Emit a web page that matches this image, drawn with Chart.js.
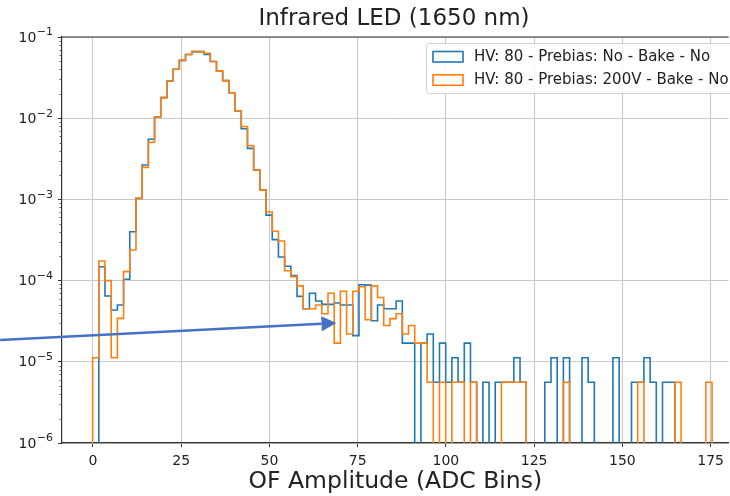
<!DOCTYPE html>
<html>
<head>
<meta charset="utf-8">
<script src="https://cdn.jsdelivr.net/npm/chart.js@4/dist/chart.umd.min.js"></script>
<style>
html,body{margin:0;padding:0;background:#fff;overflow:hidden}
#wrap{width:730px;height:496px;position:relative}
canvas{display:block}
</style>
</head>
<body>
<div id="wrap"><canvas id="c" width="730" height="496"></canvas></div>
<script>
// ---------------- data ----------------
const chartTitle = 'Infrared LED (1650 nm)';
const xAxisLabel = 'OF Amplitude (ADC Bins)';
const seriesLabels = ['HV: 80 - Prebias: No - Bake - No', 'HV: 80 - Prebias: 200V - Bake - No'];
const seriesColors = ['#1f77b4', '#ff7f0e'];

// histogram binning (100 bins)
const binStart = -0.1;
const binWidth = 1.755;

// normalised densities per bin
const blueDensity = [
  0, 1.48e-4, 6.45e-5, 4.35e-5, 5.0e-5, 1.04e-4, 4.0e-4, 1.03e-3, 2.65e-3, 5.5e-3,
  1.03e-2, 1.79e-2, 2.87e-2, 4.0e-2, 5.15e-2, 6.1e-2, 6.6e-2, 6.6e-2, 6.1e-2, 5.0e-2,
  3.8e-2, 2.9e-2, 2.06e-2, 1.23e-2, 7.4e-3, 4.25e-3, 2.3e-3, 1.31e-3, 6.4e-4, 3.2e-4,
  1.95e-4, 1.5e-4, 1.15e-4, 6.4e-5, 4.5e-5, 7.0e-5, 5.6e-5, 5.1e-5, 5.1e-5, 5.3e-5,
  5.0e-5, 5.0e-5, 2.1e-5, 8.9e-5, 8.8e-5, 3.2e-5, 5.0e-5, 4.5e-5, 4.5e-5, 5.6e-5,
  1.7e-5, 1.7e-5, 0, 1.7e-5, 2.2e-5, 5.6e-6, 1.7e-5, 5.6e-6, 1.12e-5, 5.6e-6,
  1.7e-5, 5.6e-6, 0, 5.6e-6, 0, 5.6e-6, 5.6e-6, 5.6e-6, 1.12e-5, 5.6e-6,
  0, 0, 0, 5.6e-6, 1.12e-5, 0, 1.12e-5, 0, 0, 1.12e-5,
  5.6e-6, 0, 0, 0, 1.12e-5, 0, 0, 5.6e-6, 5.6e-6, 1.12e-5,
  5.6e-6, 0, 5.6e-6, 5.6e-6, 0, 0, 0, 0, 0, 0
];
const orangeDensity = [
  1.12e-5, 1.74e-4, 1.0e-4, 1.12e-5, 3.43e-5, 1.29e-4, 2.38e-4, 1.03e-3, 2.48e-3, 5.05e-3,
  1.03e-2, 1.79e-2, 2.87e-2, 4.0e-2, 5.15e-2, 6.1e-2, 6.6e-2, 6.6e-2, 6.3e-2, 5.0e-2,
  3.8e-2, 2.9e-2, 2.06e-2, 1.23e-2, 7.9e-3, 4.6e-3, 2.3e-3, 1.31e-3, 7.0e-4, 4.05e-4,
  3.07e-4, 1.32e-4, 1.12e-4, 8.6e-5, 4.5e-5, 4.5e-5, 5.0e-5, 3.9e-5, 7.0e-5, 1.7e-5,
  7.4e-5, 2.2e-5, 7.4e-5, 8.4e-5, 3.3e-5, 8.6e-5, 6.2e-5, 2.8e-5, 3.4e-5, 3.9e-5,
  2.2e-5, 2.8e-5, 1.7e-5, 1.7e-5, 5.6e-6, 0, 5.6e-6, 0, 5.6e-6, 5.6e-6,
  0, 5.6e-6, 0, 0, 0, 0, 5.6e-6, 5.6e-6, 5.6e-6, 5.6e-6,
  0, 0, 0, 0, 0, 0, 5.6e-6, 0, 0, 0,
  0, 0, 0, 0, 0, 0, 0, 0, 5.6e-6, 0,
  0, 0, 0, 0, 5.6e-6, 0, 0, 0, 0, 5.6e-6
];

const xTickValues = [0, 25, 50, 75, 100, 125, 150, 175];
const yTickExponents = [-6, -5, -4, -3, -2, -1];
const xRange = [-8.77, 180.1];
const yRange = [1e-6, 1e-1];

// annotation arrow (data coordinates)
const arrowFrom = {x: -26.3, y: 1.86e-5};
const arrowTo = {x: 69.0, y: 3.0e-5};

// ---------------- build ----------------
const FLOOR = 1e-9; // empty bins drop below the axis (log scale)
function stepPoints(vals) {
  const pts = [];
  const edge = k => binStart + k * binWidth;
  pts.push({x: edge(0), y: FLOOR});
  vals.forEach((v, k) => pts.push({x: edge(k), y: v > 0 ? v : FLOOR}));
  const last = vals[vals.length - 1];
  pts.push({x: edge(vals.length), y: last > 0 ? last : FLOOR});
  pts.push({x: edge(vals.length), y: FLOOR});
  return pts;
}

Chart.defaults.font.family = "'DejaVu Sans', sans-serif";
Chart.defaults.color = '#222';

const FONT = "'DejaVu Sans', sans-serif";

const refPlugin = {
  id: 'ref',
  afterDraw(chart) {
    const {ctx, chartArea: a, scales} = chart;
    const xs = scales.x, ys = scales.y;
    ctx.save();
    // top spine
    ctx.strokeStyle = '#333';
    ctx.lineWidth = 1.2;
    ctx.beginPath();
    ctx.moveTo(a.left - 0.6, a.top);
    ctx.lineTo(a.right, a.top);
    ctx.stroke();

    // minor log ticks
    ctx.lineWidth = 0.8;
    ctx.beginPath();
    for (let i = 0; i < yTickExponents.length - 1; i++) {
      const e = yTickExponents[i];
      for (let m = 2; m <= 9; m++) {
        const py = Math.round(ys.getPixelForValue(m * Math.pow(10, e))) + 0.5;
        ctx.moveTo(a.left, py);
        ctx.lineTo(a.left - 2.4, py);
      }
    }
    ctx.stroke();

    // y tick labels 10^e
    ctx.fillStyle = '#222';
    ctx.textBaseline = 'middle';
    ctx.textAlign = 'left';
    for (const e of yTickExponents) {
      const py = ys.getPixelForValue(Math.pow(10, e));
      const base = '10', sup = '\u2212' + Math.abs(e);
      ctx.font = '14px ' + FONT;
      const w1 = ctx.measureText(base).width;
      ctx.font = '11px ' + FONT;
      const w2 = ctx.measureText(sup).width;
      const right = a.left - 9;
      ctx.font = '14px ' + FONT;
      ctx.fillText(base, right - w2 - w1 - 0.5, py + 1);
      ctx.font = '11px ' + FONT;
      ctx.fillText(sup, right - w2, py - 4.5);
    }

    // title
    ctx.font = '23px ' + FONT;
    ctx.textAlign = 'center';
    ctx.fillStyle = '#222';
    ctx.fillText(chartTitle, 394, 19);

    // legend
    const lx = 426.5, ly = 43.5, lw = 330, lh = 50, r = 3;
    ctx.beginPath();
    ctx.moveTo(lx + r, ly);
    ctx.lineTo(lx + lw - r, ly);
    ctx.arcTo(lx + lw, ly, lx + lw, ly + r, r);
    ctx.lineTo(lx + lw, ly + lh - r);
    ctx.arcTo(lx + lw, ly + lh, lx + lw - r, ly + lh, r);
    ctx.lineTo(lx + r, ly + lh);
    ctx.arcTo(lx, ly + lh, lx, ly + lh - r, r);
    ctx.lineTo(lx, ly + r);
    ctx.arcTo(lx, ly, lx + r, ly, r);
    ctx.closePath();
    ctx.fillStyle = 'rgba(255,255,255,0.85)';
    ctx.fill();
    ctx.strokeStyle = '#d0d0d0';
    ctx.lineWidth = 1;
    ctx.stroke();
    seriesLabels.forEach((lab, i) => {
      const cy = 56.5 + i * 23.3;
      ctx.strokeStyle = seriesColors[i];
      ctx.lineWidth = 1.6;
      ctx.strokeRect(433, cy - 5, 30, 10.5);
      ctx.fillStyle = '#222';
      ctx.font = '15px ' + FONT;
      ctx.textAlign = 'left';
      ctx.textBaseline = 'middle';
      ctx.fillText(lab, 474, cy + 0.5);
    });

    // arrow annotation
    const x0 = xs.getPixelForValue(arrowFrom.x), y0 = ys.getPixelForValue(arrowFrom.y);
    const x1 = xs.getPixelForValue(arrowTo.x), y1 = ys.getPixelForValue(arrowTo.y);
    const ang = Math.atan2(y1 - y0, x1 - x0);
    const hl = 15, hw = 7.5;
    const bx = x1 - hl * Math.cos(ang), by = y1 - hl * Math.sin(ang);
    ctx.strokeStyle = '#4472C4';
    ctx.fillStyle = '#4472C4';
    ctx.lineWidth = 2.5;
    ctx.beginPath();
    ctx.moveTo(x0, y0);
    ctx.lineTo(bx, by);
    ctx.stroke();
    ctx.beginPath();
    ctx.moveTo(x1, y1);
    ctx.lineTo(bx + hw * Math.sin(ang), by - hw * Math.cos(ang));
    ctx.lineTo(bx - hw * Math.sin(ang), by + hw * Math.cos(ang));
    ctx.closePath();
    ctx.fill();
    ctx.restore();
  }
};

new Chart(document.getElementById('c'), {
  type: 'line',
  data: {
    datasets: [
      {label: seriesLabels[0], data: stepPoints(blueDensity), borderColor: seriesColors[0],
       borderWidth: 1.6, pointRadius: 0, stepped: 'before', fill: false, order: 1},
      {label: seriesLabels[1], data: stepPoints(orangeDensity), borderColor: seriesColors[1],
       borderWidth: 1.6, pointRadius: 0, stepped: 'before', fill: false, order: 0}
    ]
  },
  options: {
    responsive: false,
    animation: false,
    devicePixelRatio: 1,
    layout: {padding: {top: 37, left: 0, right: 0, bottom: 0}},
    plugins: {legend: {display: false}, title: {display: false}, tooltip: {enabled: false}},
    scales: {
      x: {
        type: 'linear', min: xRange[0], max: xRange[1],
        afterBuildTicks: s => { s.ticks = xTickValues.map(v => ({value: v})); },
        afterFit: s => { s.height = 53; },
        grid: {color: '#c8c8c8', lineWidth: 1, drawTicks: true, tickLength: 4, tickColor: '#333', tickWidth: 1},
        border: {display: true, color: '#333', width: 1.2},
        ticks: {font: {size: 14}, color: '#222', padding: 6, maxRotation: 0, autoSkip: false,
                callback: v => String(v)},
        title: {display: true, text: xAxisLabel, font: {size: 23.5}, color: '#222', padding: {top: 0, bottom: 0}}
      },
      y: {
        type: 'logarithmic', min: yRange[0], max: yRange[1],
        afterBuildTicks: s => { s.ticks = yTickExponents.map(e => ({value: Math.pow(10, e)})); },
        afterFit: s => { s.width = 62; },
        grid: {color: '#c8c8c8', lineWidth: 1, drawTicks: true, tickLength: 4, tickColor: '#333', tickWidth: 1},
        border: {display: true, color: '#333', width: 1.2},
        ticks: {display: false}
      }
    }
  },
  plugins: [refPlugin]
});
</script>
</body>
</html>
